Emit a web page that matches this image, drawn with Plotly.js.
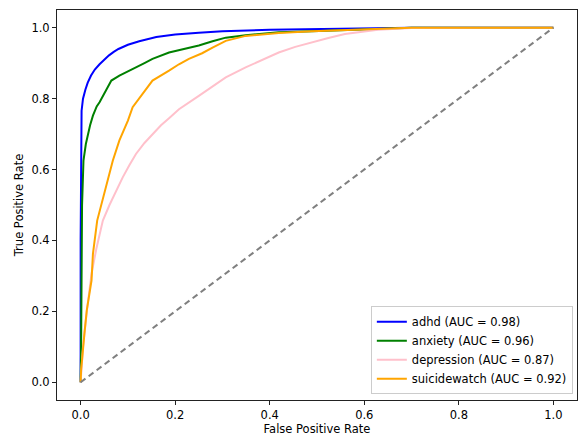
<!DOCTYPE html>
<html>
<head>
<meta charset="utf-8">
<script src="https://cdn.plot.ly/plotly-3.0.1.min.js"></script>
<style>html,body{margin:0;padding:0;background:#fff;}#chart{width:578px;height:437px;}</style>
</head>
<body>
<div id="chart"></div>
<script>
// ROC data
const adhdFpr = [0, 0.0, 0.002, 0.005, 0.01, 0.015, 0.022, 0.03, 0.04, 0.05, 0.06, 0.07, 0.08, 0.1, 0.124, 0.16, 0.2, 0.25, 0.3, 0.4, 0.5, 0.6, 0.7, 1.0];
const adhdTpr = [0, 0.4, 0.766, 0.8, 0.825, 0.845, 0.865, 0.882, 0.897, 0.91, 0.922, 0.932, 0.94, 0.952, 0.962, 0.974, 0.981, 0.986, 0.99, 0.994, 0.996, 0.999, 1.0, 1.0];

const anxietyFpr = [0, 0.001, 0.003, 0.006, 0.011, 0.015, 0.02, 0.026, 0.034, 0.04, 0.047, 0.054, 0.065, 0.082, 0.1, 0.117, 0.135, 0.152, 0.187, 0.215, 0.25, 0.279, 0.307, 0.349, 0.419, 0.489, 0.56, 0.63, 0.7, 1.0];
const anxietyTpr = [0, 0.1, 0.5, 0.625, 0.672, 0.696, 0.725, 0.752, 0.778, 0.79, 0.808, 0.823, 0.851, 0.865, 0.876, 0.888, 0.9, 0.912, 0.93, 0.938, 0.95, 0.962, 0.972, 0.979, 0.987, 0.99, 0.994, 0.997, 1.0, 1.0];

const depressionFpr = [0, 0.005, 0.013, 0.023, 0.033, 0.047, 0.061, 0.075, 0.089, 0.103, 0.117, 0.135, 0.152, 0.17, 0.187, 0.208, 0.25, 0.279, 0.307, 0.349, 0.384, 0.419, 0.454, 0.489, 0.524, 0.559, 0.594, 0.629, 0.7, 1.0];
const depressionTpr = [0, 0.1, 0.2, 0.306, 0.375, 0.456, 0.5, 0.54, 0.578, 0.612, 0.644, 0.675, 0.7, 0.725, 0.745, 0.77, 0.808, 0.835, 0.86, 0.888, 0.91, 0.93, 0.946, 0.959, 0.971, 0.982, 0.989, 0.994, 0.999, 1.0];

const suicideFpr = [0, 0.001, 0.008, 0.013, 0.023, 0.026, 0.035, 0.046, 0.054, 0.068, 0.082, 0.1, 0.11, 0.131, 0.152, 0.187, 0.208, 0.229, 0.257, 0.279, 0.307, 0.349, 0.419, 0.489, 0.56, 0.63, 0.7, 1.0];
const suicideTpr = [0, 0.034, 0.137, 0.203, 0.287, 0.362, 0.456, 0.513, 0.55, 0.625, 0.682, 0.738, 0.776, 0.813, 0.851, 0.879, 0.897, 0.912, 0.928, 0.944, 0.963, 0.977, 0.985, 0.99, 0.994, 0.997, 1.0, 1.0];

const chanceX = [0, 1];
const chanceY = [0, 1];

const seriesNames = ["adhd (AUC = 0.98)", "anxiety (AUC = 0.96)", "depression (AUC = 0.87)", "suicidewatch (AUC = 0.92)"];
const seriesColors = ["blue", "green", "pink", "orange"];
const tickVals = [0, 0.2, 0.4, 0.6, 0.8, 1.0];
const tickText = ["0.0", "0.2", "0.4", "0.6", "0.8", "1.0"];

const xs = [adhdFpr, anxietyFpr, depressionFpr, suicideFpr];
const ys = [adhdTpr, anxietyTpr, depressionTpr, suicideTpr];

const traces = xs.map((x, i) => ({
  x: x, y: ys[i], type: "scatter", mode: "lines",
  name: seriesNames[i],
  line: {color: seriesColors[i], width: 2}
}));
traces.push({
  x: chanceX, y: chanceY, type: "scatter", mode: "lines",
  showlegend: false,
  line: {color: "gray", width: 2, dash: "6px,4px"}
});

const font = {family: "DejaVu Sans, sans-serif", size: 11.5, color: "#000"};
const axisCommon = {
  range: [-0.05, 1.05],
  tickvals: tickVals, ticktext: tickText,
  ticks: "outside", ticklen: 4, tickwidth: 1, tickcolor: "#222",
  showline: true, linecolor: "#222", linewidth: 1, mirror: true,
  showgrid: false, zeroline: false,
  tickfont: font
};

const layout = {
  width: 578, height: 437,
  margin: {l: 57, r: 1, t: 10, b: 37},
  paper_bgcolor: "#fff", plot_bgcolor: "#fff",
  font: font,
  xaxis: Object.assign({}, axisCommon, {title: {text: "False Positive Rate", font: font, standoff: 3}}),
  yaxis: Object.assign({}, axisCommon, {title: {text: "True Positive Rate", font: font, standoff: 5}}),
  legend: {
    x: 0.992, y: 0.015, xanchor: "right", yanchor: "bottom",
    bgcolor: "rgba(255,255,255,0.8)", bordercolor: "#cccccc", borderwidth: 1,
    font: font, tracegroupgap: 0
  },
  showlegend: true
};

Plotly.newPlot("chart", traces, layout, {staticPlot: true, displayModeBar: false});
</script>
</body>
</html>
